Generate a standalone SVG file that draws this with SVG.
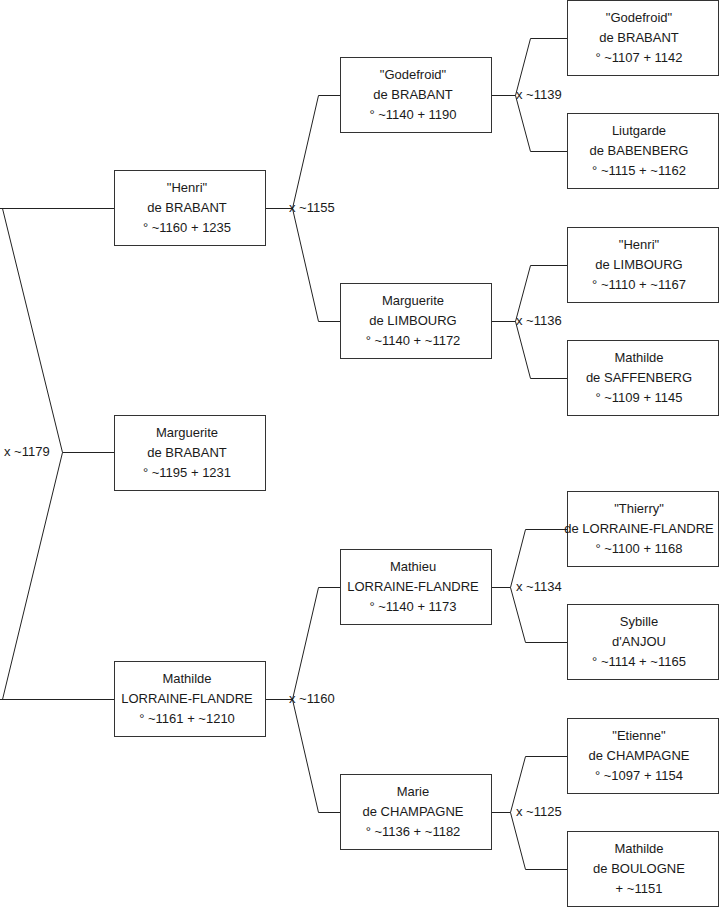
<svg xmlns="http://www.w3.org/2000/svg" width="719" height="908" viewBox="0 0 719 908">
<style>
.box{fill:#fff;stroke:#333;stroke-width:1}
.t{font-family:"Liberation Sans",Arial,sans-serif;font-size:13px;fill:#1a1a1a;text-anchor:middle}
.l{font-family:"Liberation Sans",Arial,sans-serif;font-size:13px;fill:#1a1a1a}
.c{fill:none;stroke:#222;stroke-width:1}
</style>
<rect width="719" height="908" fill="#fff"/>
<g id="connectors">
<polyline class="c" points="0,208.5 114,208.5"/>
<polyline class="c" points="2.5,208.5 62.5,452.5 2.5,699.5"/>
<polyline class="c" points="62.5,452.5 114,452.5"/>
<polyline class="c" points="0,699.5 114,699.5"/>
<polyline class="c" points="265,208.5 292.5,208.5"/>
<polyline class="c" points="340,95.5 318.5,95.5 292.5,208.5 318.5,321.5 340,321.5"/>
<polyline class="c" points="265,699.5 292.5,699.5"/>
<polyline class="c" points="340,587.5 318.5,587.5 292.5,699.5 318.5,812.5 340,812.5"/>
<polyline class="c" points="492,95.5 515.5,95.5"/>
<polyline class="c" points="567,38.5 530.5,38.5 515.5,95.5 530.5,151.5 567,151.5"/>
<polyline class="c" points="492,321.5 515.5,321.5"/>
<polyline class="c" points="567,265.5 530.5,265.5 515.5,321.5 530.5,378.5 567,378.5"/>
<polyline class="c" points="492,587.5 510.5,587.5"/>
<polyline class="c" points="567,529.5 525.5,529.5 510.5,587.5 525.5,642.5 567,642.5"/>
<polyline class="c" points="492,812.5 510.5,812.5"/>
<polyline class="c" points="567,756.5 525.5,756.5 510.5,812.5 525.5,869.5 567,869.5"/>
<text class="l" x="4" y="456">x ~1179</text>
<text class="l" x="289" y="212">x ~1155</text>
<text class="l" x="289" y="703">x ~1160</text>
<text class="l" x="516" y="99">x ~1139</text>
<text class="l" x="516" y="325">x ~1136</text>
<text class="l" x="516" y="591">x ~1134</text>
<text class="l" x="516" y="816">x ~1125</text>
</g>
<g id="henri-brabant">
<rect class="box" x="114.5" y="170.5" width="151" height="75"/>
<text class="t" x="187" y="192">"Henri"</text>
<text class="t" x="187" y="212">de BRABANT</text>
<text class="t" x="187" y="232">° ~1160 + 1235</text>
</g>
<g id="marguerite-brabant">
<rect class="box" x="114.5" y="415.5" width="151" height="75"/>
<text class="t" x="187" y="437">Marguerite</text>
<text class="t" x="187" y="457">de BRABANT</text>
<text class="t" x="187" y="477">° ~1195 + 1231</text>
</g>
<g id="mathilde-lorraine">
<rect class="box" x="114.5" y="661.5" width="151" height="75"/>
<text class="t" x="187" y="683">Mathilde</text>
<text class="t" x="187" y="703">LORRAINE-FLANDRE</text>
<text class="t" x="187" y="723">° ~1161 + ~1210</text>
</g>
<g id="godefroid-brabant-1140">
<rect class="box" x="340.5" y="57.5" width="151" height="75"/>
<text class="t" x="413" y="79">"Godefroid"</text>
<text class="t" x="413" y="99">de BRABANT</text>
<text class="t" x="413" y="119">° ~1140 + 1190</text>
</g>
<g id="marguerite-limbourg">
<rect class="box" x="340.5" y="283.5" width="151" height="75"/>
<text class="t" x="413" y="305">Marguerite</text>
<text class="t" x="413" y="325">de LIMBOURG</text>
<text class="t" x="413" y="345">° ~1140 + ~1172</text>
</g>
<g id="mathieu-lorraine">
<rect class="box" x="340.5" y="549.5" width="151" height="75"/>
<text class="t" x="413" y="571">Mathieu</text>
<text class="t" x="413" y="591">LORRAINE-FLANDRE</text>
<text class="t" x="413" y="611">° ~1140 + 1173</text>
</g>
<g id="marie-champagne">
<rect class="box" x="340.5" y="774.5" width="151" height="75"/>
<text class="t" x="413" y="796">Marie</text>
<text class="t" x="413" y="816">de CHAMPAGNE</text>
<text class="t" x="413" y="836">° ~1136 + ~1182</text>
</g>
<g id="godefroid-brabant-1107">
<rect class="box" x="567.5" y="0.5" width="151" height="75"/>
<text class="t" x="639" y="22">"Godefroid"</text>
<text class="t" x="639" y="42">de BRABANT</text>
<text class="t" x="639" y="62">° ~1107 + 1142</text>
</g>
<g id="liutgarde-babenberg">
<rect class="box" x="567.5" y="113.5" width="151" height="75"/>
<text class="t" x="639" y="135">Liutgarde</text>
<text class="t" x="639" y="155">de BABENBERG</text>
<text class="t" x="639" y="175">° ~1115 + ~1162</text>
</g>
<g id="henri-limbourg">
<rect class="box" x="567.5" y="227.5" width="151" height="75"/>
<text class="t" x="639" y="249">"Henri"</text>
<text class="t" x="639" y="269">de LIMBOURG</text>
<text class="t" x="639" y="289">° ~1110 + ~1167</text>
</g>
<g id="mathilde-saffenberg">
<rect class="box" x="567.5" y="340.5" width="151" height="75"/>
<text class="t" x="639" y="362">Mathilde</text>
<text class="t" x="639" y="382">de SAFFENBERG</text>
<text class="t" x="639" y="402">° ~1109 + 1145</text>
</g>
<g id="thierry-lorraine">
<rect class="box" x="567.5" y="491.5" width="151" height="75"/>
<text class="t" x="639" y="513">"Thierry"</text>
<text class="t" x="639" y="533">de LORRAINE-FLANDRE</text>
<text class="t" x="639" y="553">° ~1100 + 1168</text>
</g>
<g id="sybille-anjou">
<rect class="box" x="567.5" y="604.5" width="151" height="75"/>
<text class="t" x="639" y="626">Sybille</text>
<text class="t" x="639" y="646">d'ANJOU</text>
<text class="t" x="639" y="666">° ~1114 + ~1165</text>
</g>
<g id="etienne-champagne">
<rect class="box" x="567.5" y="718.5" width="151" height="75"/>
<text class="t" x="639" y="740">"Etienne"</text>
<text class="t" x="639" y="760">de CHAMPAGNE</text>
<text class="t" x="639" y="780">° ~1097 + 1154</text>
</g>
<g id="mathilde-boulogne">
<rect class="box" x="567.5" y="831.5" width="151" height="75"/>
<text class="t" x="639" y="853">Mathilde</text>
<text class="t" x="639" y="873">de BOULOGNE</text>
<text class="t" x="639" y="893">+ ~1151</text>
</g>
</svg>
